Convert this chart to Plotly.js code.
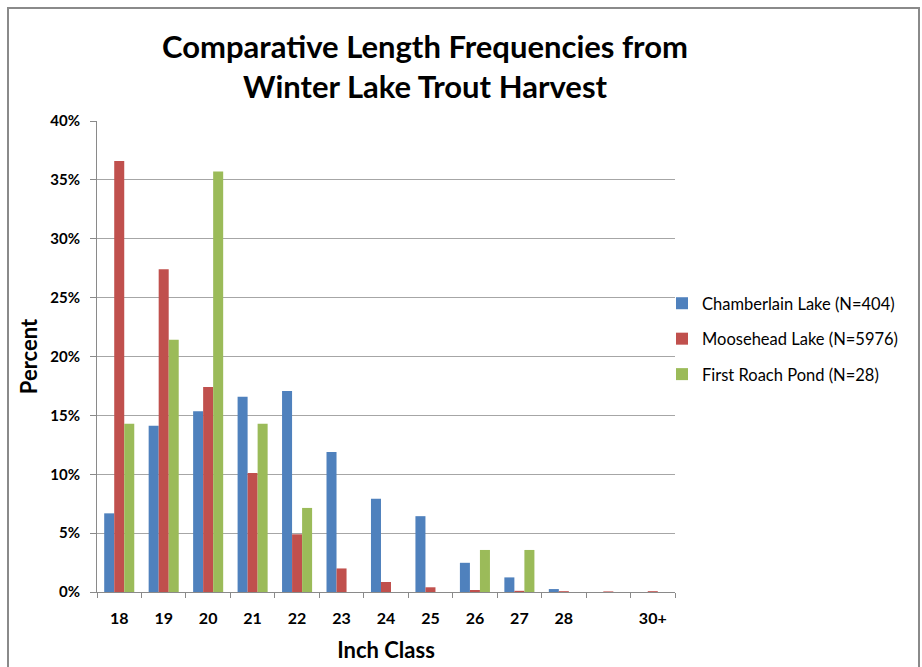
<!DOCTYPE html>
<html>
<head>
<meta charset="utf-8">
<script src="https://cdn.plot.ly/plotly-3.0.1.min.js"></script>
<style>
  html, body { margin: 0; padding: 0; background: #ffffff; }
  #wrap { position: relative; width: 922px; height: 667px; overflow: hidden; }
  #chart { position: absolute; left: 0; top: 0; width: 922px; height: 667px; }
  #frame { position: absolute; left: 7px; top: 7px; width: 909px; height: 680px;
           border: 2px solid #8a8a8a; pointer-events: none; }
</style>
</head>
<body>
<div id="wrap">
  <div id="chart"></div>
  <div id="frame"></div>
</div>
<script>
// Inch classes of harvested lake trout (29" class shown without a label)
const inchClasses = ['18', '19', '20', '21', '22', '23', '24', '25', '26', '27', '28', '29', '30+'];
const inchLabels  = ['18', '19', '20', '21', '22', '23', '24', '25', '26', '27', '28', '', '30+'];

// Percent of harvest in each inch class
const chamberlain = [6.68, 14.11, 15.35, 16.58, 17.08, 11.88, 7.92, 6.44, 2.48, 1.24, 0.25, 0, 0];
const moosehead   = [36.6, 27.4, 17.4, 10.1, 4.9, 2.0, 0.85, 0.4, 0.17, 0.1, 0.07, 0.05, 0.07];
const firstRoach  = [14.29, 21.43, 35.71, 14.29, 7.14, 0, 0, 0, 3.57, 3.57, 0, 0, 0];

const seriesNames = ['Chamberlain Lake (N=404)', 'Moosehead Lake (N=5976)', 'First Roach Pond (N=28)'];
const seriesColors = ['#4F81BD', '#C0504D', '#9BBB59'];
const seriesValues = [chamberlain, moosehead, firstRoach];

const FONT = 'Lato, "Open Sans", "Liberation Sans", sans-serif';

const traces = seriesValues.map((vals, i) => ({
  type: 'bar',
  name: seriesNames[i],
  x: inchClasses,
  y: vals,
  legendgroup: 'g' + i,
  marker: { color: seriesColors[i], line: { width: 0 } },
  hoverinfo: 'x+y+name'
}));

const layout = {
  width: 922,
  height: 667,
  paper_bgcolor: '#ffffff',
  plot_bgcolor: '#ffffff',
  margin: { l: 97, r: 247, t: 121, b: 75 },
  barmode: 'group',
  bargap: 0.324,
  bargroupgap: 0,
  font: { family: FONT, color: '#000000' },
  title: {
    text: '<b>Comparative Length Frequencies from<br>Winter Lake Trout Harvest</b>',
    font: { family: FONT, size: 31, color: '#000000' },
    x: 0.461, xref: 'container', xanchor: 'center',
    y: 1 - 58 / 667, yref: 'container', yanchor: 'top'
  },
  xaxis: {
    type: 'category',
    tickvals: inchClasses,
    ticktext: inchLabels,
    tickson: 'boundaries',
    ticks: 'outside',
    ticklen: 5,
    tickcolor: '#8a8a8a',
    ticklabelstandoff: 12,
    showline: true,
    linecolor: '#8a8a8a',
    linewidth: 1,
    showgrid: false,
    tickfont: { family: FONT, size: 16, color: '#000000', weight: 'bold' },
    title: { text: '<b>Inch Class</b>', font: { family: FONT, size: 22, color: '#000000' }, standoff: 16 },
    automargin: false
  },
  yaxis: {
    range: [0, 40],
    dtick: 5,
    ticksuffix: '%',
    ticks: 'outside',
    ticklen: 6,
    tickcolor: '#8a8a8a',
    ticklabelstandoff: 7,
    showline: true,
    linecolor: '#8a8a8a',
    linewidth: 1,
    showgrid: true,
    gridcolor: '#a6a6a6',
    gridwidth: 1,
    zeroline: false,
    tickfont: { family: FONT, size: 15, color: '#000000', weight: 'bold' },
    title: { text: '<b>Percent</b>', font: { family: FONT, size: 22, color: '#000000' }, standoff: 6 },
    automargin: false
  },
  legend: {
    x: (662 - 97) / 578,
    xanchor: 'left',
    y: (592 - 339) / 471,
    yanchor: 'middle',
    font: { family: FONT, size: 16.5, color: '#000000' },
    tracegroupgap: 11,
    itemwidth: 30,
    bgcolor: 'rgba(0,0,0,0)'
  },
  showlegend: true
};

Plotly.newPlot('chart', traces, layout, { displayModeBar: false, staticPlot: true });
</script>
</body>
</html>
